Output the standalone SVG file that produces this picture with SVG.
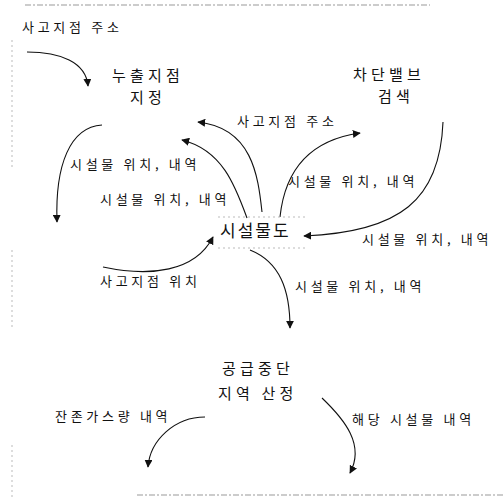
<svg xmlns="http://www.w3.org/2000/svg" width="503" height="497" viewBox="0 0 503 497">
<style>
text{font-family:"Noto Sans CJK KR","Noto Sans",sans-serif;fill:#111;}
.lb{font-size:13px;letter-spacing:3.7px;}
.nd{font-size:15px;letter-spacing:4.2px;}
.cn{fill:none;stroke:#111;stroke-width:1.1;marker-end:url(#ah);}
.scan{fill:none;stroke:#999;stroke-width:1;stroke-dasharray:6 2 2 2;}
.dot{fill:none;stroke:#bbb;stroke-width:1;stroke-dasharray:2 3;}
</style>
<defs>
<marker id="ah" viewBox="0 0 10 10" refX="9" refY="5" markerWidth="8" markerHeight="8" markerUnits="userSpaceOnUse" orient="auto">
<path d="M0,0 L10,5 L0,10 z" fill="#111"/>
</marker>
</defs>
<rect width="503" height="497" fill="#fff"/>
<g id="scan-edges">
<path class="scan" d="M25,5 H430"/>
<path class="scan" d="M137,495 H503"/>
<path class="dot" d="M12,40 V170 M12,250 V330 M12,445 V497"/>
</g>
<g id="connectors">
<path class="cn" d="M27,52 C60,52 86,62 88,86"/>
<path class="cn" d="M102,125 C70,127 55,165 57,222"/>
<path class="cn" d="M262,212 C258,175 252,128 198,122"/>
<path class="cn" d="M247,218 C235,185 222,150 182,140"/>
<path class="cn" d="M280,217 C285,170 310,140 360,133"/>
<path class="cn" d="M443,122 C440,200 400,232 304,236"/>
<path class="cn" d="M103,267 C150,277 195,272 213,237"/>
<path class="cn" d="M250,250 C280,262 290,290 290,328"/>
<path class="cn" d="M205,417 C175,417 150,440 148,467"/>
<path class="cn" d="M322,398 C345,420 365,445 350,473"/>
</g>
<g id="edge-labels">
<text class="lb" x="22" y="32">사고지점 주소</text>
<text class="lb" x="237" y="126">사고지점 주소</text>
<text class="lb" x="70" y="169">시설물 위치, 내역</text>
<text class="lb" x="100" y="204">시설물 위치, 내역</text>
<text class="lb" x="288" y="186">시설물 위치, 내역</text>
<text class="lb" x="362" y="244">시설물 위치, 내역</text>
<text class="lb" x="100" y="286">사고지점 위치</text>
<text class="lb" x="295" y="291">시설물 위치, 내역</text>
<text class="lb" x="55" y="421">잔존가스량 내역</text>
<text class="lb" x="352" y="424">해당 시설물 내역</text>
</g>
<g id="node-leak">
<text class="nd" x="112" y="81">누출지점</text>
<text class="nd" x="130" y="103">지정</text>
</g>
<g id="node-valve">
<text class="nd" x="353" y="80">차단밸브</text>
<text class="nd" x="378" y="102">검색</text>
</g>
<g id="node-facility">
<path class="dot" d="M218,217 H305 M218,248 H305"/>
<text class="nd" x="220" y="237" style="font-size:17px;letter-spacing:2px">시설물도</text>
</g>
<g id="node-supply">
<text class="nd" x="222" y="374">공급중단</text>
<text class="nd" x="218" y="399">지역 산정</text>
</g>
</svg>
